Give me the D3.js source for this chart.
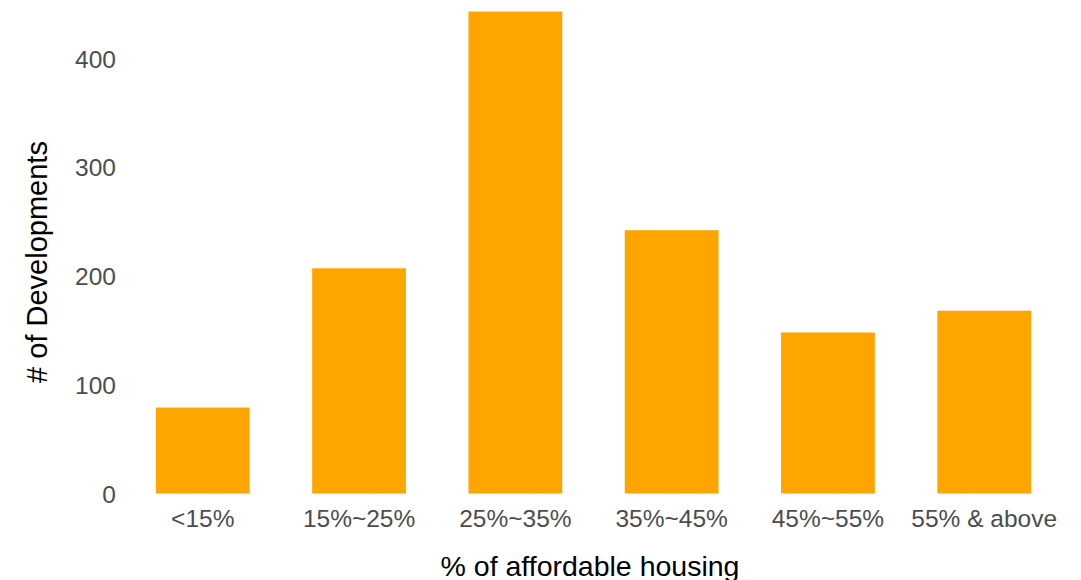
<!DOCTYPE html>
<html>
<head>
<meta charset="utf-8">
<script src="https://cdn.jsdelivr.net/npm/d3@7"></script>
<style>
  body { margin: 0; background: #fff; }
  text { font-family: "Liberation Sans", Arial, sans-serif; }
</style>
</head>
<body>
<svg></svg>
<script>
var categories = ["<15%", "15%~25%", "25%~35%", "35%~45%", "45%~55%", "55% & above"];
var counts = [79, 207, 443, 242, 148, 168];
var yTicks = [0, 100, 200, 300, 400];

var width = 1081, height = 580;
var margin = {top: 0, right: 3, bottom: 86.5, left: 109};

var svg = d3.select("svg")
    .attr("width", width)
    .attr("height", height);

var x = d3.scaleBand()
    .domain(categories)
    .range([margin.left, width - margin.right])
    .paddingInner(0.4)
    .paddingOuter(0.3);

var y = d3.scaleLinear()
    .domain([0, 400])
    .range([height - margin.bottom, height - margin.bottom - 435.2]);

svg.selectAll("rect.bar")
    .data(counts)
    .enter()
    .append("rect")
    .attr("class", "bar")
    .attr("x", (d, i) => x(categories[i]))
    .attr("width", x.bandwidth())
    .attr("y", d => y(d))
    .attr("height", d => y(0) - y(d))
    .attr("fill", "#FFA500");

// y axis, ticks hidden like the ggplot theme
var yAxis = svg.append("g")
    .attr("transform", "translate(" + (margin.left + 7) + ",0)")
    .call(d3.axisLeft(y).tickValues(yTicks).tickSize(0).tickPadding(0));
yAxis.select(".domain").remove();
yAxis.selectAll("text")
    .attr("fill", "#4d4d4d")
    .attr("font-size", 24.5)
    .attr("dy", "0.36em")
    .style("font-family", "Liberation Sans, Arial, sans-serif");

var xAxis = svg.append("g")
    .attr("transform", "translate(0," + y(0) + ")")
    .call(d3.axisBottom(x).tickSize(0).tickPadding(16));
xAxis.select(".domain").remove();
xAxis.selectAll("text")
    .attr("fill", "#4d4d4d")
    .attr("font-size", 24.5)
    .style("font-family", "Liberation Sans, Arial, sans-serif");

svg.append("text")
    .attr("x", 590)
    .attr("y", 576)
    .attr("text-anchor", "middle")
    .attr("font-size", 28.5)
    .attr("fill", "#000")
    .text("% of affordable housing");

svg.append("text")
    .attr("transform", "translate(47,262) rotate(-90)")
    .attr("text-anchor", "middle")
    .attr("font-size", 29)
    .attr("fill", "#000")
    .text("# of Developments");
</script>
</body>
</html>
